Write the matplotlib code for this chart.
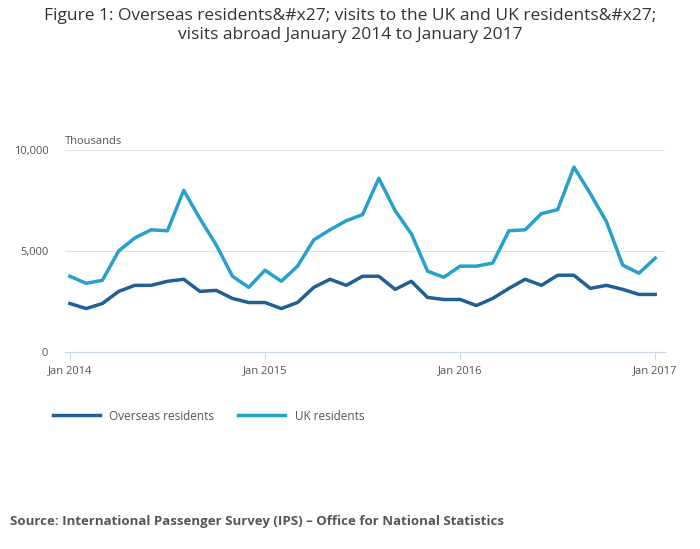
import numpy as np
import matplotlib.pyplot as plt

uk_residents = [3750, 3400, 3550, 5000, 5650, 6050, 6000, 8000, 6600, 5300, 3750, 3200,
                4050, 3500, 4250, 5550, 6050, 6500, 6800, 8600, 7000, 5850, 4000, 3700,
                4250, 4250, 4400, 6000, 6050, 6850, 7050, 9150, 7850, 6450, 4300, 3900,
                4650]
overseas = [2400, 2150, 2400, 3000, 3300, 3300, 3500, 3600, 3000, 3050, 2650, 2450,
            2450, 2150, 2450, 3200, 3600, 3300, 3750, 3750, 3100, 3500, 2700, 2600,
            2600, 2300, 2650, 3150, 3600, 3300, 3800, 3800, 3150, 3300, 3100, 2850,
            2850]
tick_labels = ['Jan 2014', 'Jan 2015', 'Jan 2016', 'Jan 2017']

plt.rcParams['font.family'] = ['Open Sans', 'DejaVu Sans']
fig = plt.figure(figsize=(7, 5.49), dpi=100)
ax = fig.add_axes([65/700, 1-352/549, 600/700, 202/549])
x = np.arange(len(uk_residents))
ax.plot(x, overseas, color='#206095', lw=2.5, label='Overseas residents')
ax.plot(x, uk_residents, color='#27a0cc', lw=2.5, label='UK residents')
ax.set_ylim(0, 10000)
ax.set_xlim(-0.3, 37.3 * 0 + 36.6)
ax.set_yticks([0, 5000, 10000])
ax.set_yticklabels(['0', '5,000', '10,000'], fontsize=8, color='#555555')
ax.set_xticks([0, 12, 24, 36])
ax.set_xticklabels(tick_labels, fontsize=8, color='#555555')
ax.grid(axis='y', color='#e0e0e0', lw=0.8)
ax.tick_params(axis='y', length=0, pad=12)
ax.tick_params(axis='x', length=6, color='#ccd6eb')
for s in ['top', 'right', 'left']:
    ax.spines[s].set_visible(False)
ax.spines['bottom'].set_color('#ccd6eb')
ax.text(-0.3, 10150, 'Thousands', fontsize=8, color='#555555', va='bottom', ha='left')
fig.suptitle("Figure 1: Overseas residents&#x27; visits to the UK and UK residents&#x27;\nvisits abroad January 2014 to January 2017",
             y=0.985, fontsize=12.5, color='#333333')
fig.legend(loc='center left', bbox_to_anchor=(0.06, 1-416/549), ncol=2, frameon=False,
           fontsize=8.5, handlelength=4, columnspacing=2, labelcolor='#555555')
fig.text(10/700, 1-521/549, 'Source: International Passenger Survey (IPS) – Office for National Statistics',
         fontsize=9.5, fontweight='bold', color='#555555', va='center')
fig.savefig('out.png', dpi=100)
